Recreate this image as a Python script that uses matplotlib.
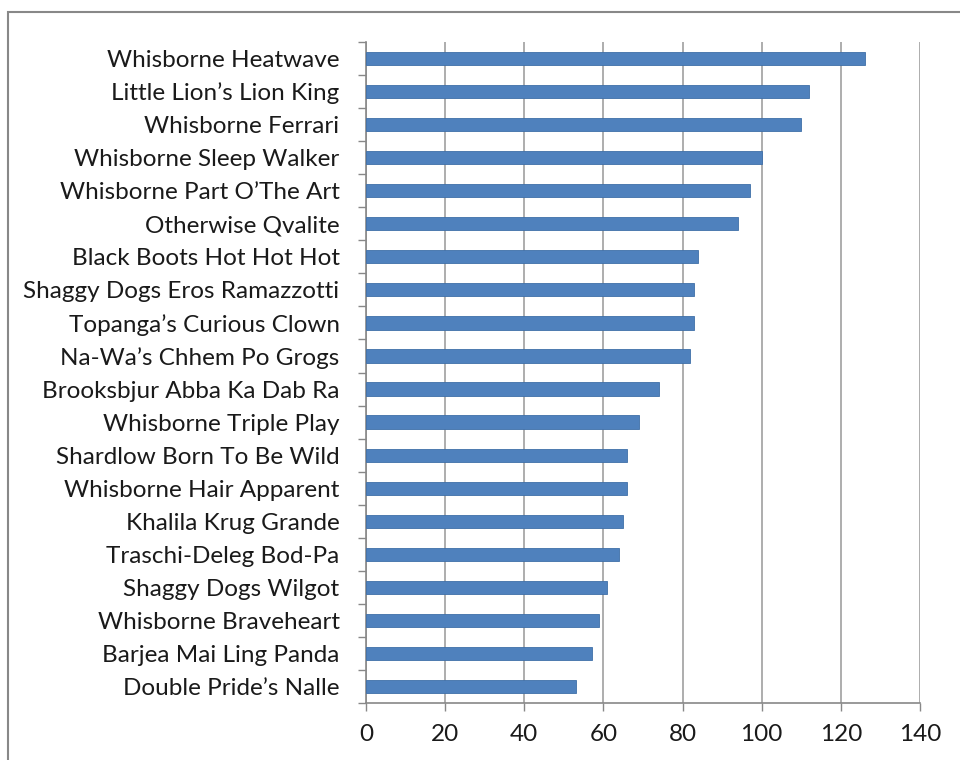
import matplotlib.pyplot as plt
import numpy as np
from matplotlib.patches import Rectangle

names = ["Whisborne Heatwave", "Little Lion\u2019s Lion King", "Whisborne Ferrari",
         "Whisborne Sleep Walker", "Whisborne Part O\u2019The Art", "Otherwise Qvalite",
         "Black Boots Hot Hot Hot", "Shaggy Dogs Eros Ramazzotti", "Topanga\u2019s Curious Clown",
         "Na-Wa\u2019s Chhem Po Grogs", "Brooksbjur Abba Ka Dab Ra", "Whisborne Triple Play",
         "Shardlow Born To Be Wild", "Whisborne Hair Apparent", "Khalila Krug Grande",
         "Traschi-Deleg Bod-Pa", "Shaggy Dogs Wilgot", "Whisborne Braveheart",
         "Barjea Mai Ling Panda", "Double Pride\u2019s Nalle"]
values = [126, 112, 110, 100, 97, 94, 84, 83, 83, 82, 74, 69, 66, 66, 65, 64, 61, 59, 57, 53]
xticks = [0, 20, 40, 60, 80, 100, 120, 140]

plt.rcParams['font.family'] = ['Lato', 'DejaVu Sans']

fig = plt.figure(figsize=(9.6, 7.6), dpi=100)
ax = fig.add_axes([366/960, 1 - 703/760, (920 - 366)/960, (703 - 42)/760])

y = np.arange(len(names))[::-1]
ax.barh(y, values, height=0.4, color='#4F81BD', edgecolor='#3F6FA8', linewidth=0.6, zorder=3)

ax.set_xlim(0, 140)
ax.set_ylim(-0.5, len(names) - 0.5)
ax.set_xticks(xticks)
ax.set_xticklabels([str(t) for t in xticks], fontsize=17.5, color='#1a1a1a')
ax.set_yticks(y)
ax.set_yticklabels(names, fontsize=17.5, color='#1a1a1a')
ax.set_yticks(np.arange(len(names) + 1) - 0.5, minor=True)
ax.tick_params(axis='y', which='major', length=0, pad=19)
ax.tick_params(axis='y', which='minor', length=6, color='#888888', width=1)
ax.tick_params(axis='x', length=6, color='#888888', width=1, pad=9)

ax.grid(axis='x', color='#A0A0A0', linewidth=1.2, zorder=0)
for s in ['top', 'right']:
    ax.spines[s].set_visible(False)
for s in ['left', 'bottom']:
    ax.spines[s].set_color('#888888')
    ax.spines[s].set_linewidth(1.2)

# outer chart frame (cut off at right and bottom)
fig.patches.append(Rectangle((8/960, -0.1), 1.0, 1 - 12/760 + 0.1, transform=fig.transFigure,
                             fill=False, edgecolor='#888888', linewidth=1.5))

fig.savefig('out.png', dpi=100)
